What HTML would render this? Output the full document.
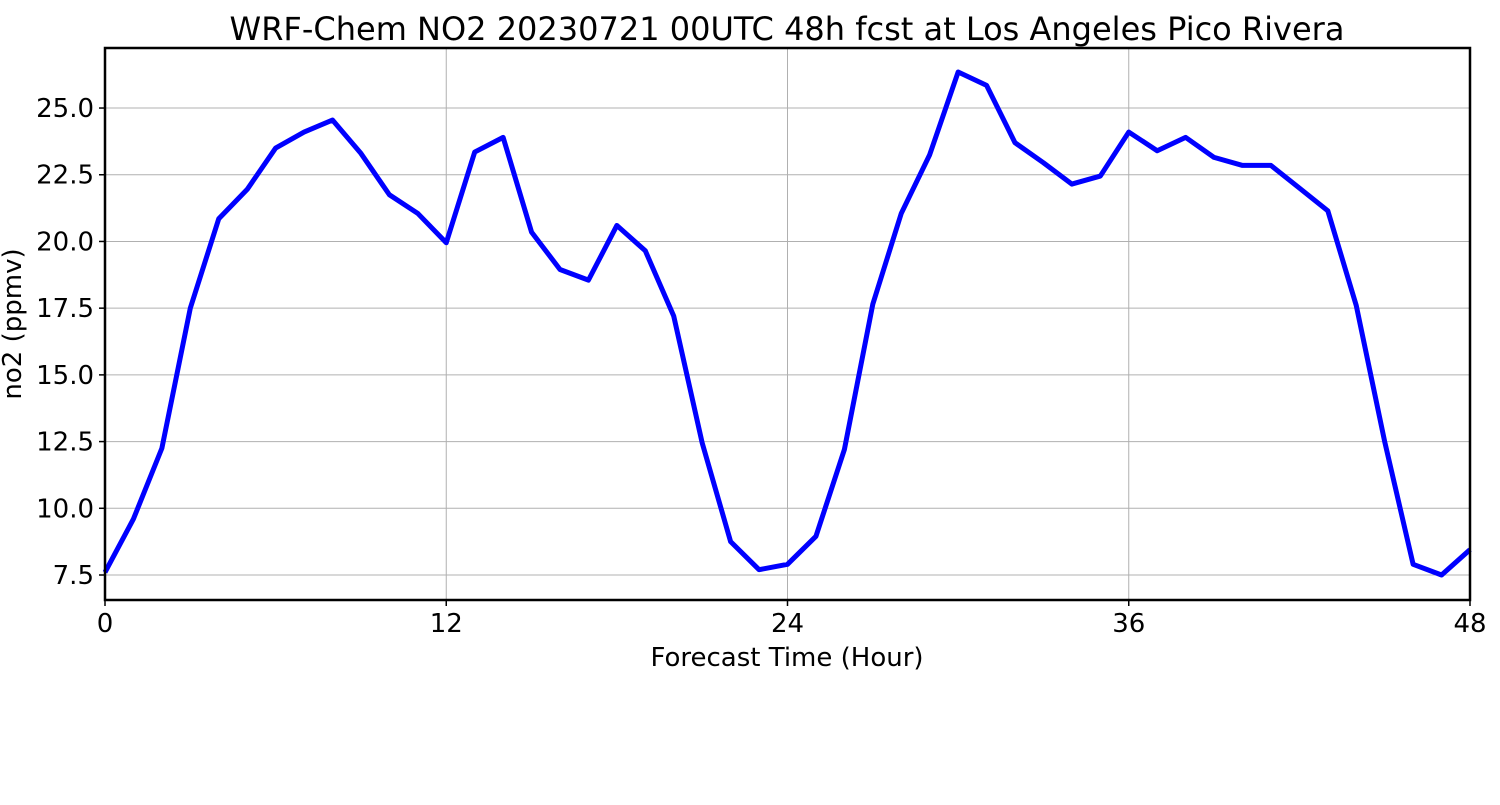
<!DOCTYPE html>
<html><head><meta charset="utf-8"><style>
body{margin:0;background:#fff;width:1500px;height:800px;overflow:hidden}
svg text{font-family:"DejaVu Sans","Liberation Sans",sans-serif;fill:#000}
</style></head><body>
<svg id="chart" width="1500" height="800">
<rect width="1500" height="800" fill="#fff"/>
<text x="787" y="40" font-size="32" text-anchor="middle">WRF-Chem NO2  20230721 00UTC 48h fcst at Los Angeles Pico Rivera</text>
<g id="grid"></g>
<g id="ticks"></g>
<polyline id="line" fill="none" stroke="#0000ff" stroke-width="5" stroke-linejoin="round"/>
<rect x="105" y="48" width="1365" height="552" fill="none" stroke="#000" stroke-width="2.5"/>
<text x="787" y="666" font-size="26" text-anchor="middle">Forecast Time (Hour)</text>
<text transform="translate(21,324) rotate(-90)" font-size="26" text-anchor="middle">no2  (ppmv)</text>
</svg>
<script>
const hours = [0,1,2,3,4,5,6,7,8,9,10,11,12,13,14,15,16,17,18,19,20,21,22,23,24,25,26,27,28,29,30,31,32,33,34,35,36,37,38,39,40,41,42,43,44,45,46,47,48];
const no2 = [7.6,9.6,12.25,17.5,20.85,21.95,23.5,24.1,24.55,23.3,21.75,21.05,19.95,23.35,23.9,20.35,18.95,18.55,20.6,19.65,17.2,12.45,8.75,7.7,7.9,8.95,12.2,17.65,21.05,23.25,26.35,25.85,23.7,22.95,22.15,22.45,24.1,23.4,23.9,23.15,22.85,22.85,22.0,21.15,17.6,12.5,7.9,7.5,8.45];
const xTicks = [0,12,24,36,48];
const yTicks = [7.5,10.0,12.5,15.0,17.5,20.0,22.5,25.0];
const X0=105,X1=1470,Y0=600,Y1=48,XMIN=0,XMAX=48,YMIN=6.563,YMAX=27.25;
const xs=v=>X0+(v-XMIN)/(XMAX-XMIN)*(X1-X0);
const ys=v=>Y0-(v-YMIN)/(YMAX-YMIN)*(Y0-Y1);
const NS="http://www.w3.org/2000/svg";
const grid=document.getElementById('grid'),ticks=document.getElementById('ticks');
function mk(t,a,p){const e=document.createElementNS(NS,t);for(const k in a)e.setAttribute(k,a[k]);p.appendChild(e);return e;}
xTicks.forEach(v=>{
  const x=xs(v);
  const g=mk('line',{x1:x,x2:x,y1:Y1,y2:Y0,stroke:'#b0b0b0','stroke-width':1},grid);
  
  
  const t=mk('line',{x1:x,x2:x,y1:Y0,y2:Y0+6,stroke:'#000','stroke-width':1.5},ticks);
  
  
  const l=mk('text',{x:x,y:632,'font-size':26,'text-anchor':'middle'},ticks);
  l.textContent=v;
  
  
});
yTicks.forEach(v=>{
  const y=ys(v);
  const g=mk('line',{x1:X0,x2:X1,y1:y,y2:y,stroke:'#b0b0b0','stroke-width':1},grid);
  
  
  const t=mk('line',{x1:X0-6,x2:X0,y1:y,y2:y,stroke:'#000','stroke-width':1.5},ticks);
  
  
  const l=mk('text',{x:94,y:y+9,'font-size':26,'text-anchor':'end'},ticks);
  l.textContent=v.toFixed(1);
  
  
});
document.getElementById('line').setAttribute('points',hours.map((h,i)=>xs(h)+','+ys(no2[i])).join(' '));
</script>
</body></html>
